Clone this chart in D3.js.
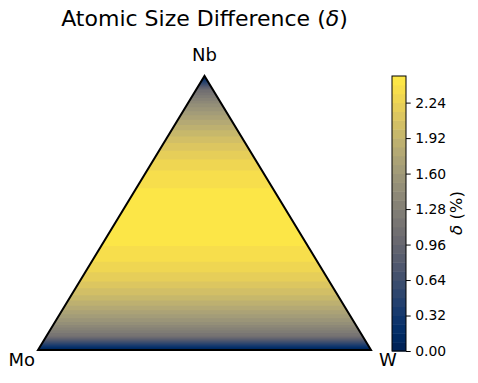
<!DOCTYPE html>
<html>
<head>
<meta charset="utf-8">
<script src="https://cdn.jsdelivr.net/npm/d3@7"></script>
<style>
  body { margin: 0; background: #fff; }
  svg { display: block; font-family: "DejaVu Sans", sans-serif; }
</style>
</head>
<body>
<svg id="chart" width="478" height="383"></svg>
<script>
// corner labels of the ternary plot
const corners = ["Mo", "Nb", "W"];
const nbFrac = [0, 0.05, 0.10, 0.15, 0.20, 0.25, 0.30, 0.35, 0.40, 0.45, 0.50,
                0.55, 0.60, 0.65, 0.70, 0.75, 0.80, 0.85, 0.90, 0.95, 1];
const deltaPct = [0, 1.10, 1.51, 1.79, 2.00, 2.16, 2.28, 2.37, 2.42, 2.45, 2.46,
                  2.44, 2.39, 2.33, 2.23, 2.10, 1.93, 1.72, 1.44, 1.04, 0];
// contour levels and colorbar ticks
const levels = d3.range(32).map(i => +(i * 0.08).toFixed(2)); // 0 .. 2.48
const cbTicks = [0, 0.32, 0.64, 0.96, 1.28, 1.60, 1.92, 2.24];

const svg = d3.select("#chart");

// triangle frame (Mo bottom-left, W bottom-right, Nb top)
const triL = 38, triR = 371, triT = 76, triB = 350;
const apexX = (triL + triR) / 2;
const y = d3.scaleLinear().domain([0, 1]).range([triB, triT]); // Nb fraction -> px
const deltaAt = d3.scaleLinear().domain(nbFrac).range(deltaPct);
const vmax = levels[levels.length - 1];
const color = t => d3.interpolateCividis(t / vmax);
const step = levels[1] - levels[0];

// sample grid: δ only changes with the row here
const nx = 4, ny = 275;
const values = [];
for (let j = 0; j < ny; j++) {
    const py = triT + j * (triB - triT) / (ny - 1);
    const v = deltaAt(y.invert(py));
    for (let i = 0; i < nx; i++) values.push(v);
}
const contours = d3.contours().size([nx, ny]).thresholds(levels.slice(0, -1))(values);

const proj = d3.geoTransform({
    point: function(gx, gy) {
        this.stream.point(triL + (gx - 0.5) * (triR - triL) / (nx - 1),
                          triT + (gy - 0.5) * (triB - triT) / (ny - 1));
    }
});
const path = d3.geoPath(proj);

const triPts = [[triL, triB], [apexX, triT], [triR, triB]];
svg.append("clipPath").attr("id", "tri")
    .append("polygon").attr("points", triPts.join(" "));

svg.append("g").attr("clip-path", "url(#tri)")
    .selectAll("path")
    .data(contours)
    .join("path")
    .attr("d", path)
    .attr("fill", d => color(d.value + step / 2));

svg.append("polygon")
    .attr("points", triPts.join(" "))
    .attr("fill", "none")
    .attr("stroke", "#000")
    .attr("stroke-width", 2)
    .attr("stroke-linejoin", "miter");

// corner labels
const labelPos = [[21.7, 366], [apexX, 60.5], [388, 366]];
svg.append("g").selectAll("text")
    .data(corners)
    .join("text")
    .attr("x", (d, i) => labelPos[i][0])
    .attr("y", (d, i) => labelPos[i][1])
    .attr("text-anchor", "middle")
    .attr("font-size", 18)
    .text(d => d);

// title
const title = svg.append("text")
    .attr("x", apexX).attr("y", 26)
    .attr("text-anchor", "middle")
    .attr("font-size", 22);
title.append("tspan").text("Atomic Size Difference (");
title.append("tspan").attr("font-style", "italic").text("δ");
title.append("tspan").text(")");

// colorbar
const cbX = 392, cbW = 14;
const cbY = d3.scaleLinear().domain([0, vmax]).range([351, 76]);
const cb = svg.append("g");
cb.selectAll("rect")
    .data(levels.slice(0, -1))
    .join("rect")
    .attr("x", cbX)
    .attr("y", d => cbY(d + step))
    .attr("width", cbW)
    .attr("height", d => cbY(d) - cbY(d + step) + 0.5)
    .attr("fill", d => color(d + step / 2));
cb.append("rect")
    .attr("x", cbX).attr("y", cbY(vmax))
    .attr("width", cbW).attr("height", cbY(0) - cbY(vmax))
    .attr("fill", "none").attr("stroke", "#000").attr("stroke-width", 1);

const axis = svg.append("g")
    .attr("transform", `translate(${cbX + cbW},0)`)
    .call(d3.axisRight(cbY).tickValues(cbTicks).tickFormat(d3.format(".2f"))
        .tickSize(4.7).tickPadding(4.5));
axis.select(".domain").remove();
axis.selectAll("text").attr("font-size", 13.9).attr("font-family", "DejaVu Sans").attr("fill", "#000");
axis.selectAll("line").attr("stroke", "#000").attr("stroke-width", 1);

const cbLabel = svg.append("text")
    .attr("transform", "translate(462,213) rotate(-90)")
    .attr("text-anchor", "middle")
    .attr("font-size", 16.5);
cbLabel.append("tspan").attr("font-style", "italic").text("δ");
cbLabel.append("tspan").text(" (%)");
</script>
</body>
</html>
